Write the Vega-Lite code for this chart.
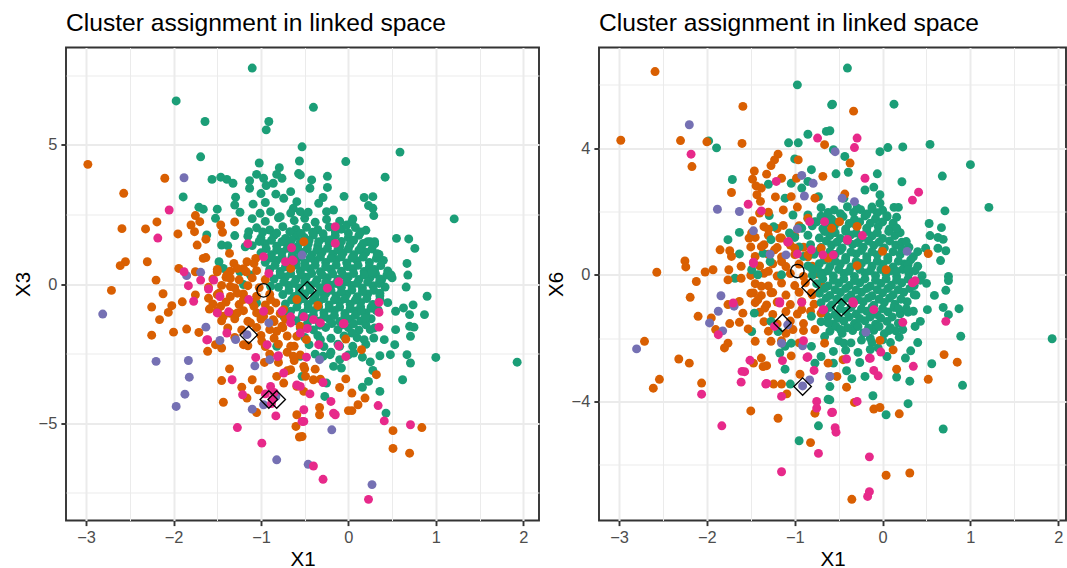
{
"$schema":"https://vega.github.io/schema/vega-lite/v6.json",
"background":"white",
"padding":{"left":12,"top":9.5,"right":0,"bottom":0},
"config":{
 "font":"Liberation Sans",
 "view":{"stroke":"#333333","strokeWidth":1.9},
 "axis":{"domain":false,"tickColor":"#333333","tickSize":5.1,"tickWidth":1.9,"labelColor":"#4D4D4D","labelFontSize":16.4,"labelPadding":4.1,"titleFontSize":20.5,"titleFontWeight":"normal","titleColor":"black","titlePadding":5.1,"gridColor":"#EBEBEB","labelFont":"Liberation Sans","titleFont":"Liberation Sans","labelOverlap":false,"format":"d"},
 "axisX":{"titlePadding":3},
 "title":{"fontSize":24.6,"fontWeight":"normal","anchor":"start","frame":"group","font":"Liberation Sans","color":"black","offset":10.5,"baseline":"alphabetic"},
 "concat":{"spacing":5}
},
"datasets":{
"centers":[{"x":-0.97,"y3":-0.23,"y6":0.12,"s":"circle"},{"x":-0.47,"y3":-0.23,"y6":-1.03,"s":"diamond"},{"x":-1.14,"y3":-1.83,"y6":-1.52,"s":"diamond"},{"x":-0.91,"y3":-4.15,"y6":-3.53,"s":"diamond"},{"x":-0.82,"y3":-4.15,"y6":-0.40,"s":"diamond"}],
"left":[
{"x":-1.1,"y":2.35,"c":"g"},{"x":-0.95,"y":2.25,"c":"g"},{"x":-0.8,"y":2.38,"c":"g"},{"x":-0.62,"y":2.28,"c":"g"},{"x":-0.5,"y":2.36,"c":"g"},{"x":-0.38,"y":2.22,"c":"g"},{"x":-0.25,"y":2.32,"c":"g"},{"x":-0.1,"y":2.26,"c":"g"},{"x":0.05,"y":2.34,"c":"g"},
{"x":-1.05,"y":2.02,"c":"g"},{"x":-0.9,"y":1.94,"c":"g"},{"x":-0.75,"y":2.06,"c":"g"},{"x":-0.6,"y":1.96,"c":"g"},{"x":-0.48,"y":2.04,"c":"g"},{"x":-0.35,"y":1.95,"c":"g"},{"x":-0.22,"y":2.05,"c":"g"},{"x":-0.08,"y":1.97,"c":"g"},{"x":0.08,"y":2.03,"c":"g"},{"x":0.2,"y":1.93,"c":"g"},
{"x":-1.15,"y":1.72,"c":"g"},{"x":-1.0,"y":1.66,"c":"g"},{"x":-0.85,"y":1.75,"c":"g"},{"x":-0.72,"y":1.64,"c":"g"},{"x":-0.6,"y":1.73,"c":"g"},{"x":-0.5,"y":1.66,"c":"g"},{"x":-0.4,"y":1.76,"c":"g"},{"x":-0.28,"y":1.65,"c":"g"},{"x":-0.15,"y":1.74,"c":"g"},{"x":0.0,"y":1.67,"c":"g"},{"x":0.12,"y":1.75,"c":"g"},
{"x":-1.1,"y":1.38,"c":"g"},{"x":-0.95,"y":1.45,"c":"g"},{"x":-0.82,"y":1.36,"c":"g"},{"x":-0.7,"y":1.44,"c":"g"},{"x":-0.58,"y":1.35,"c":"g"},{"x":-0.46,"y":1.43,"c":"g"},{"x":-0.35,"y":1.37,"c":"g"},{"x":-0.22,"y":1.46,"c":"g"},{"x":-0.1,"y":1.35,"c":"g"},{"x":0.02,"y":1.42,"c":"g"},{"x":0.15,"y":1.36,"c":"g"},{"x":0.3,"y":1.44,"c":"g"},
{"x":-1.0,"y":1.12,"c":"g"},{"x":-0.88,"y":1.05,"c":"g"},{"x":-0.76,"y":1.14,"c":"g"},{"x":-0.64,"y":1.06,"c":"g"},{"x":-0.52,"y":1.13,"c":"g"},{"x":-0.42,"y":1.04,"c":"g"},{"x":-0.3,"y":1.15,"c":"g"},{"x":-0.18,"y":1.07,"c":"g"},{"x":-0.06,"y":1.12,"c":"g"},{"x":0.06,"y":1.05,"c":"g"},{"x":0.2,"y":1.14,"c":"g"},{"x":0.35,"y":1.06,"c":"g"},
{"x":-0.95,"y":0.78,"c":"g"},{"x":-0.82,"y":0.85,"c":"g"},{"x":-0.7,"y":0.76,"c":"g"},{"x":-0.6,"y":0.84,"c":"g"},{"x":-0.5,"y":0.75,"c":"g"},{"x":-0.38,"y":0.83,"c":"g"},{"x":-0.26,"y":0.77,"c":"g"},{"x":-0.14,"y":0.86,"c":"g"},{"x":-0.02,"y":0.76,"c":"g"},{"x":0.1,"y":0.84,"c":"g"},{"x":0.24,"y":0.77,"c":"g"},{"x":0.4,"y":0.85,"c":"g"},
{"x":-0.9,"y":0.52,"c":"g"},{"x":-0.78,"y":0.45,"c":"g"},{"x":-0.66,"y":0.54,"c":"g"},{"x":-0.55,"y":0.46,"c":"g"},{"x":-0.44,"y":0.55,"c":"g"},{"x":-0.32,"y":0.44,"c":"g"},{"x":-0.2,"y":0.53,"c":"g"},{"x":-0.08,"y":0.46,"c":"g"},{"x":0.05,"y":0.55,"c":"g"},{"x":0.18,"y":0.45,"c":"g"},{"x":0.3,"y":0.52,"c":"g"},{"x":0.45,"y":0.47,"c":"g"},
{"x":-0.85,"y":0.18,"c":"g"},{"x":-0.72,"y":0.25,"c":"g"},{"x":-0.6,"y":0.16,"c":"g"},{"x":-0.48,"y":0.24,"c":"g"},{"x":-0.36,"y":0.15,"c":"g"},{"x":-0.24,"y":0.23,"c":"g"},{"x":-0.12,"y":0.17,"c":"g"},{"x":0.0,"y":0.26,"c":"g"},{"x":0.12,"y":0.16,"c":"g"},{"x":0.25,"y":0.24,"c":"g"},{"x":0.38,"y":0.15,"c":"g"},{"x":0.5,"y":0.22,"c":"g"},
{"x":-0.8,"y":-0.12,"c":"g"},{"x":-0.68,"y":-0.05,"c":"g"},{"x":-0.56,"y":-0.14,"c":"g"},{"x":-0.44,"y":-0.06,"c":"g"},{"x":-0.32,"y":-0.13,"c":"g"},{"x":-0.2,"y":-0.04,"c":"g"},{"x":-0.08,"y":-0.12,"c":"g"},{"x":0.04,"y":-0.05,"c":"g"},{"x":0.16,"y":-0.14,"c":"g"},{"x":0.28,"y":-0.06,"c":"g"},{"x":0.42,"y":-0.11,"c":"g"},
{"x":-0.75,"y":-0.38,"c":"g"},{"x":-0.62,"y":-0.45,"c":"g"},{"x":-0.5,"y":-0.36,"c":"g"},{"x":-0.38,"y":-0.44,"c":"g"},{"x":-0.26,"y":-0.35,"c":"g"},{"x":-0.14,"y":-0.43,"c":"g"},{"x":-0.02,"y":-0.37,"c":"g"},{"x":0.1,"y":-0.46,"c":"g"},{"x":0.22,"y":-0.36,"c":"g"},{"x":0.36,"y":-0.42,"c":"g"},
{"x":-0.72,"y":-0.72,"c":"g"},{"x":-0.58,"y":-0.65,"c":"g"},{"x":-0.46,"y":-0.74,"c":"g"},{"x":-0.34,"y":-0.66,"c":"g"},{"x":-0.22,"y":-0.75,"c":"g"},{"x":-0.1,"y":-0.64,"c":"g"},{"x":0.02,"y":-0.73,"c":"g"},{"x":0.14,"y":-0.66,"c":"g"},{"x":0.28,"y":-0.74,"c":"g"},{"x":0.45,"y":-0.67,"c":"g"},
{"x":-0.66,"y":-0.98,"c":"g"},{"x":-0.52,"y":-1.05,"c":"g"},{"x":-0.4,"y":-0.96,"c":"g"},{"x":-0.28,"y":-1.04,"c":"g"},{"x":-0.16,"y":-0.95,"c":"g"},{"x":-0.04,"y":-1.06,"c":"g"},{"x":0.08,"y":-0.97,"c":"g"},{"x":0.2,"y":-1.04,"c":"g"},{"x":0.32,"y":-0.96,"c":"g"},
{"x":-0.6,"y":-1.32,"c":"g"},{"x":-0.46,"y":-1.25,"c":"g"},{"x":-0.34,"y":-1.34,"c":"g"},{"x":-0.22,"y":-1.26,"c":"g"},{"x":-0.1,"y":-1.35,"c":"g"},{"x":0.02,"y":-1.27,"c":"g"},{"x":0.14,"y":-1.33,"c":"g"},{"x":0.26,"y":-1.25,"c":"g"},
{"x":-0.55,"y":-1.58,"c":"g"},{"x":-0.4,"y":-1.65,"c":"g"},{"x":-0.26,"y":-1.56,"c":"g"},{"x":-0.12,"y":-1.64,"c":"g"},{"x":0.0,"y":-1.57,"c":"g"},{"x":0.12,"y":-1.66,"c":"g"},{"x":0.3,"y":-1.58,"c":"g"},
{"x":-0.5,"y":-1.92,"c":"g"},{"x":-0.35,"y":-1.85,"c":"g"},{"x":-0.2,"y":-1.95,"c":"g"},{"x":-0.05,"y":-1.87,"c":"g"},{"x":0.1,"y":-1.93,"c":"g"},
{"x":-0.45,"y":-2.18,"c":"g"},{"x":-0.28,"y":-2.25,"c":"g"},{"x":-0.12,"y":-2.16,"c":"g"},{"x":0.05,"y":-2.24,"c":"g"},{"x":0.2,"y":-2.17,"c":"g"},
{"x":-0.38,"y":-2.52,"c":"g"},{"x":-0.2,"y":-2.45,"c":"g"},{"x":0.0,"y":-2.55,"c":"g"},
{"x":-0.98,"y":1.87,"c":"g"},{"x":-0.82,"y":1.83,"c":"g"},{"x":-0.67,"y":1.88,"c":"g"},{"x":-0.54,"y":1.82,"c":"g"},{"x":-0.41,"y":1.86,"c":"g"},{"x":-0.29,"y":1.81,"c":"g"},{"x":-0.15,"y":1.88,"c":"g"},{"x":0.0,"y":1.83,"c":"g"},{"x":0.14,"y":1.87,"c":"g"},
{"x":-1.02,"y":1.53,"c":"g"},{"x":-0.88,"y":1.57,"c":"g"},{"x":-0.76,"y":1.52,"c":"g"},{"x":-0.65,"y":1.58,"c":"g"},{"x":-0.55,"y":1.51,"c":"g"},{"x":-0.45,"y":1.56,"c":"g"},{"x":-0.34,"y":1.52,"c":"g"},{"x":-0.21,"y":1.58,"c":"g"},{"x":-0.08,"y":1.53,"c":"g"},{"x":0.06,"y":1.57,"c":"g"},{"x":0.22,"y":1.52,"c":"g"},
{"x":-0.94,"y":1.27,"c":"g"},{"x":-0.82,"y":1.22,"c":"g"},{"x":-0.7,"y":1.28,"c":"g"},{"x":-0.58,"y":1.23,"c":"g"},{"x":-0.47,"y":1.27,"c":"g"},{"x":-0.36,"y":1.21,"c":"g"},{"x":-0.24,"y":1.28,"c":"g"},{"x":-0.12,"y":1.23,"c":"g"},{"x":0.0,"y":1.27,"c":"g"},{"x":0.12,"y":1.22,"c":"g"},{"x":0.27,"y":1.26,"c":"g"},
{"x":-0.88,"y":0.93,"c":"g"},{"x":-0.76,"y":0.97,"c":"g"},{"x":-0.65,"y":0.92,"c":"g"},{"x":-0.55,"y":0.98,"c":"g"},{"x":-0.44,"y":0.93,"c":"g"},{"x":-0.32,"y":0.97,"c":"g"},{"x":-0.2,"y":0.92,"c":"g"},{"x":-0.08,"y":0.98,"c":"g"},{"x":0.04,"y":0.93,"c":"g"},{"x":0.17,"y":0.97,"c":"g"},{"x":0.32,"y":0.92,"c":"g"},
{"x":-0.84,"y":0.67,"c":"g"},{"x":-0.72,"y":0.62,"c":"g"},{"x":-0.6,"y":0.68,"c":"g"},{"x":-0.5,"y":0.63,"c":"g"},{"x":-0.38,"y":0.67,"c":"g"},{"x":-0.26,"y":0.62,"c":"g"},{"x":-0.14,"y":0.68,"c":"g"},{"x":-0.01,"y":0.63,"c":"g"},{"x":0.11,"y":0.67,"c":"g"},{"x":0.24,"y":0.62,"c":"g"},{"x":0.37,"y":0.66,"c":"g"},
{"x":-0.78,"y":0.33,"c":"g"},{"x":-0.66,"y":0.37,"c":"g"},{"x":-0.54,"y":0.32,"c":"g"},{"x":-0.42,"y":0.38,"c":"g"},{"x":-0.3,"y":0.33,"c":"g"},{"x":-0.18,"y":0.37,"c":"g"},{"x":-0.06,"y":0.32,"c":"g"},{"x":0.06,"y":0.38,"c":"g"},{"x":0.18,"y":0.33,"c":"g"},{"x":0.31,"y":0.37,"c":"g"},{"x":0.44,"y":0.32,"c":"g"},
{"x":-0.74,"y":0.07,"c":"g"},{"x":-0.62,"y":0.02,"c":"g"},{"x":-0.5,"y":0.08,"c":"g"},{"x":-0.38,"y":0.03,"c":"g"},{"x":-0.26,"y":0.07,"c":"g"},{"x":-0.14,"y":0.02,"c":"g"},{"x":-0.02,"y":0.08,"c":"g"},{"x":0.1,"y":0.03,"c":"g"},{"x":0.22,"y":0.07,"c":"g"},{"x":0.35,"y":0.02,"c":"g"},
{"x":-0.68,"y":-0.23,"c":"g"},{"x":-0.56,"y":-0.28,"c":"g"},{"x":-0.44,"y":-0.22,"c":"g"},{"x":-0.32,"y":-0.27,"c":"g"},{"x":-0.2,"y":-0.23,"c":"g"},{"x":-0.08,"y":-0.28,"c":"g"},{"x":0.04,"y":-0.22,"c":"g"},{"x":0.16,"y":-0.27,"c":"g"},{"x":0.29,"y":-0.23,"c":"g"},
{"x":-0.65,"y":-0.57,"c":"g"},{"x":-0.52,"y":-0.53,"c":"g"},{"x":-0.4,"y":-0.58,"c":"g"},{"x":-0.28,"y":-0.52,"c":"g"},{"x":-0.16,"y":-0.57,"c":"g"},{"x":-0.04,"y":-0.53,"c":"g"},{"x":0.08,"y":-0.58,"c":"g"},{"x":0.21,"y":-0.52,"c":"g"},{"x":0.36,"y":-0.56,"c":"g"},
{"x":-0.59,"y":-0.83,"c":"g"},{"x":-0.46,"y":-0.88,"c":"g"},{"x":-0.34,"y":-0.82,"c":"g"},{"x":-0.22,"y":-0.87,"c":"g"},{"x":-0.1,"y":-0.83,"c":"g"},{"x":0.02,"y":-0.88,"c":"g"},{"x":0.14,"y":-0.82,"c":"g"},{"x":0.26,"y":-0.87,"c":"g"},
{"x":-0.53,"y":-1.17,"c":"g"},{"x":-0.4,"y":-1.12,"c":"g"},{"x":-0.28,"y":-1.18,"c":"g"},{"x":-0.16,"y":-1.13,"c":"g"},{"x":-0.04,"y":-1.17,"c":"g"},{"x":0.08,"y":-1.12,"c":"g"},{"x":0.2,"y":-1.17,"c":"g"},
{"x":-0.47,"y":-1.43,"c":"g"},{"x":-0.33,"y":-1.48,"c":"g"},{"x":-0.19,"y":-1.42,"c":"g"},{"x":-0.06,"y":-1.47,"c":"g"},{"x":0.06,"y":-1.43,"c":"g"},{"x":0.2,"y":-1.47,"c":"g"},
{"x":-1.10,"y":7.76,"c":"g"},{"x":-1.97,"y":6.58,"c":"g"},{"x":-1.64,"y":5.84,"c":"g"},{"x":-0.91,"y":5.84,"c":"g"},{"x":-0.94,"y":5.54,"c":"g"},{"x":-0.53,"y":4.93,"c":"g"},{"x":-1.69,"y":4.57,"c":"g"},{"x":-1.02,"y":4.35,"c":"g"},{"x":-0.56,"y":4.42,"c":"g"},{"x":-0.79,"y":4.18,"c":"g"},{"x":-0.82,"y":3.94,"c":"g"},{"x":-0.57,"y":3.97,"c":"g"},{"x":-1.05,"y":3.94,"c":"g"},{"x":-0.97,"y":3.80,"c":"g"},{"x":-1.13,"y":3.71,"c":"g"},{"x":-0.76,"y":3.80,"c":"g"},{"x":-1.56,"y":3.76,"c":"g"},{"x":-1.46,"y":3.84,"c":"g"},{"x":-1.39,"y":3.76,"c":"g"},{"x":-1.32,"y":3.62,"c":"g"},{"x":-1.13,"y":3.44,"c":"g"},{"x":-0.94,"y":3.54,"c":"g"},{"x":-0.86,"y":3.62,"c":"g"},{"x":-1.89,"y":3.13,"c":"g"},{"x":-0.66,"y":3.32,"c":"g"},{"x":-1.00,"y":3.25,"c":"g"},{"x":-0.83,"y":3.23,"c":"g"},{"x":-0.74,"y":3.08,"c":"g"},{"x":-1.29,"y":3.12,"c":"g"},{"x":-0.59,"y":2.96,"c":"g"},{"x":-0.63,"y":2.72,"c":"g"},{"x":-1.09,"y":2.87,"c":"g"},{"x":-0.95,"y":2.93,"c":"g"},{"x":-1.30,"y":2.84,"c":"g"},{"x":-1.24,"y":2.58,"c":"g"},{"x":-1.71,"y":2.76,"c":"g"},{"x":-1.66,"y":2.69,"c":"g"},{"x":-1.50,"y":2.69,"c":"g"},{"x":-1.52,"y":2.36,"c":"g"},{"x":-1.01,"y":2.54,"c":"g"},{"x":-0.89,"y":2.60,"c":"g"},{"x":-0.78,"y":2.42,"c":"g"},{"x":-0.66,"y":2.55,"c":"g"},{"x":-0.55,"y":2.6,"c":"g"},{"x":-1.62,"y":1.76,"c":"g"},{"x":-1.30,"y":1.74,"c":"g"},{"x":-1.14,"y":1.88,"c":"g"},{"x":-1.45,"y":1.40,"c":"g"},{"x":-1.38,"y":1.38,"c":"g"},{"x":-1.18,"y":1.34,"c":"g"},{"x":-1.48,"y":0.80,"c":"g"},{"x":-1.43,"y":0.56,"c":"g"},{"x":-1.24,"y":0.44,"c":"g"},{"x":-1.12,"y":0.32,"c":"g"},
{"x":-0.40,"y":6.35,"c":"g"},{"x":0.59,"y":4.74,"c":"g"},{"x":-0.03,"y":4.40,"c":"g"},{"x":0.42,"y":3.84,"c":"g"},{"x":-0.24,"y":3.87,"c":"g"},{"x":-0.42,"y":3.74,"c":"g"},{"x":-0.44,"y":3.44,"c":"g"},{"x":-0.24,"y":3.47,"c":"g"},{"x":-0.55,"y":3.92,"c":"g"},{"x":-0.05,"y":3.15,"c":"g"},{"x":0.18,"y":3.11,"c":"g"},{"x":0.28,"y":3.14,"c":"g"},{"x":0.23,"y":2.82,"c":"g"},{"x":0.28,"y":2.72,"c":"g"},{"x":0.29,"y":2.46,"c":"g"},{"x":1.21,"y":2.34,"c":"g"},{"x":-0.29,"y":3.11,"c":"g"},{"x":-0.34,"y":2.90,"c":"g"},{"x":-0.17,"y":2.66,"c":"g"},{"x":-0.25,"y":2.60,"c":"g"},{"x":-0.46,"y":2.58,"c":"g"},{"x":-0.02,"y":2.12,"c":"g"},{"x":0.04,"y":2.24,"c":"g"},{"x":0.55,"y":1.64,"c":"g"},{"x":0.69,"y":1.62,"c":"g"},{"x":0.76,"y":1.28,"c":"g"},{"x":0.25,"y":1.52,"c":"g"},{"x":0.30,"y":1.52,"c":"g"},{"x":0.17,"y":1.46,"c":"g"},{"x":0.33,"y":1.09,"c":"g"},{"x":0.67,"y":0.74,"c":"g"},{"x":0.68,"y":0.32,"c":"g"},{"x":0.49,"y":0.32,"c":"g"},{"x":0.27,"y":0.44,"c":"g"},{"x":0.36,"y":0.18,"c":"g"},
{"x":-1.29,"y":-1.10,"c":"g"},{"x":-1.20,"y":-0.02,"c":"g"},{"x":-1.05,"y":-0.68,"c":"g"},{"x":-0.89,"y":-0.08,"c":"g"},{"x":-0.55,"y":-2.60,"c":"g"},{"x":-0.53,"y":-3.32,"c":"g"},{"x":-0.82,"y":-2.24,"c":"g"},{"x":-0.74,"y":-1.16,"c":"g"},
{"x":0.66,"y":-0.11,"c":"g"},{"x":0.90,"y":-0.44,"c":"g"},{"x":0.74,"y":-0.75,"c":"g"},{"x":0.87,"y":-1.10,"c":"g"},{"x":0.63,"y":-0.86,"c":"g"},{"x":0.54,"y":-0.98,"c":"g"},{"x":0.70,"y":-1.10,"c":"g"},{"x":0.70,"y":-1.52,"c":"g"},{"x":0.75,"y":-1.55,"c":"g"},{"x":0.54,"y":-1.64,"c":"g"},{"x":0.71,"y":-1.88,"c":"g"},{"x":0.41,"y":-2.00,"c":"g"},{"x":0.53,"y":-2.18,"c":"g"},{"x":0.48,"y":-2.54,"c":"g"},{"x":0.36,"y":-2.58,"c":"g"},{"x":0.67,"y":-2.54,"c":"g"},{"x":0.71,"y":-2.84,"c":"g"},{"x":1.00,"y":-2.64,"c":"g"},{"x":1.93,"y":-2.81,"c":"g"},{"x":0.62,"y":-3.44,"c":"g"},{"x":0.36,"y":-3.86,"c":"g"},{"x":0.43,"y":-4.64,"c":"g"},{"x":0.16,"y":-3.71,"c":"g"},{"x":0.23,"y":-3.50,"c":"g"},{"x":0.28,"y":-3.11,"c":"g"},{"x":0.25,"y":-2.80,"c":"g"},{"x":0.16,"y":-2.63,"c":"g"},{"x":0.29,"y":-1.94,"c":"g"},{"x":0.18,"y":-2.00,"c":"g"},{"x":0.25,"y":-1.64,"c":"g"},{"x":0.36,"y":-0.33,"c":"g"},{"x":0.34,"y":-0.93,"c":"g"},{"x":0.26,"y":-0.83,"c":"g"},{"x":0.15,"y":-0.98,"c":"g"},{"x":0.19,"y":-1.22,"c":"g"},{"x":0.04,"y":-1.76,"c":"g"},{"x":0.06,"y":-2.48,"c":"g"},{"x":-0.08,"y":-3.02,"c":"g"},{"x":-0.10,"y":-2.72,"c":"g"},{"x":-0.25,"y":-3.56,"c":"g"},{"x":-0.27,"y":-4.04,"c":"g"},{"x":-0.17,"y":-2.96,"c":"g"},{"x":-0.21,"y":-2.54,"c":"g"},{"x":-0.32,"y":-2.00,"c":"g"},{"x":-0.10,"y":-2.24,"c":"g"},{"x":-0.29,"y":-2.60,"c":"g"},
{"x":-1.5,"y":0.52,"c":"o"},{"x":-1.35,"y":0.46,"c":"o"},{"x":-1.2,"y":0.55,"c":"o"},{"x":-1.05,"y":0.48,"c":"o"},
{"x":-1.55,"y":0.18,"c":"o"},{"x":-1.4,"y":0.24,"c":"o"},{"x":-1.25,"y":0.15,"c":"o"},{"x":-1.1,"y":0.22,"c":"o"},{"x":-0.95,"y":0.16,"c":"o"},
{"x":-1.6,"y":-0.12,"c":"o"},{"x":-1.45,"y":-0.05,"c":"o"},{"x":-1.3,"y":-0.14,"c":"o"},{"x":-1.15,"y":-0.06,"c":"o"},{"x":-1.02,"y":-0.13,"c":"o"},
{"x":-1.5,"y":-0.38,"c":"o"},{"x":-1.35,"y":-0.45,"c":"o"},{"x":-1.2,"y":-0.36,"c":"o"},{"x":-1.05,"y":-0.44,"c":"o"},{"x":-0.9,"y":-0.37,"c":"o"},
{"x":-1.55,"y":-0.72,"c":"o"},{"x":-1.4,"y":-0.65,"c":"o"},{"x":-1.25,"y":-0.74,"c":"o"},{"x":-1.1,"y":-0.66,"c":"o"},{"x":-0.95,"y":-0.75,"c":"o"},{"x":-0.83,"y":-0.68,"c":"o"},
{"x":-1.5,"y":-0.98,"c":"o"},{"x":-1.35,"y":-1.05,"c":"o"},{"x":-1.2,"y":-0.96,"c":"o"},{"x":-1.05,"y":-1.04,"c":"o"},{"x":-0.9,"y":-0.95,"c":"o"},{"x":-0.78,"y":-1.06,"c":"o"},
{"x":-1.45,"y":-1.32,"c":"o"},{"x":-1.3,"y":-1.25,"c":"o"},{"x":-1.15,"y":-1.34,"c":"o"},{"x":-1.0,"y":-1.26,"c":"o"},{"x":-0.85,"y":-1.35,"c":"o"},{"x":-0.72,"y":-1.27,"c":"o"},
{"x":-1.38,"y":-1.58,"c":"o"},{"x":-1.22,"y":-1.65,"c":"o"},{"x":-1.05,"y":-1.56,"c":"o"},{"x":-0.9,"y":-1.64,"c":"o"},{"x":-0.75,"y":-1.57,"c":"o"},
{"x":-1.3,"y":-1.92,"c":"o"},{"x":-1.0,"y":-1.85,"c":"o"},{"x":-0.85,"y":-1.95,"c":"o"},{"x":-0.7,"y":-1.87,"c":"o"},
{"x":-1.2,"y":-2.18,"c":"o"},{"x":-0.95,"y":-2.25,"c":"o"},{"x":-0.8,"y":-2.16,"c":"o"},{"x":-0.62,"y":-2.24,"c":"o"},
{"x":-0.9,"y":-2.52,"c":"o"},{"x":-0.7,"y":-2.45,"c":"o"},{"x":-0.55,"y":-2.55,"c":"o"},{"x":-0.8,"y":-2.82,"c":"o"},{"x":-0.62,"y":-2.75,"c":"o"},{"x":-0.7,"y":-3.12,"c":"o"},{"x":-0.5,"y":-3.05,"c":"o"},
{"x":-2.98,"y":4.30,"c":"o"},{"x":-2.10,"y":3.80,"c":"o"},{"x":-2.57,"y":3.26,"c":"o"},{"x":-2.19,"y":2.23,"c":"o"},{"x":-2.59,"y":1.99,"c":"o"},{"x":-2.32,"y":1.98,"c":"o"},{"x":-1.95,"y":1.80,"c":"o"},{"x":-1.75,"y":2.46,"c":"o"},{"x":-1.80,"y":2.12,"c":"o"},{"x":-1.70,"y":2.24,"c":"o"},{"x":-1.76,"y":1.88,"c":"o"},{"x":-1.63,"y":1.61,"c":"o"},{"x":-1.73,"y":1.40,"c":"o"},{"x":-1.46,"y":2.12,"c":"o"},{"x":-1.44,"y":1.86,"c":"o"},{"x":-1.30,"y":2.23,"c":"o"},{"x":-1.66,"y":0.92,"c":"o"},{"x":-1.63,"y":0.95,"c":"o"},{"x":-2.55,"y":0.80,"c":"o"},{"x":-2.61,"y":0.66,"c":"o"},{"x":-2.30,"y":0.80,"c":"o"},{"x":-1.36,"y":1.10,"c":"o"},{"x":-1.50,"y":0.44,"c":"o"},{"x":-1.31,"y":0.74,"c":"o"},{"x":-1.27,"y":0.56,"c":"o"},{"x":-1.16,"y":0.80,"c":"o"},{"x":-1.06,"y":0.92,"c":"o"},{"x":-1.17,"y":0.44,"c":"o"},{"x":-1.94,"y":0.56,"c":"o"},{"x":-1.75,"y":0.44,"c":"o"},{"x":-2.20,"y":0.14,"c":"o"},{"x":-1.39,"y":0.32,"c":"o"},{"x":-1.35,"y":0.20,"c":"o"},{"x":-1.08,"y":0.74,"c":"o"},{"x":-0.66,"y":0.56,"c":"o"},{"x":-0.51,"y":1.52,"c":"o"},
{"x":-2.71,"y":-0.23,"c":"o"},{"x":-2.12,"y":-0.35,"c":"o"},{"x":-2.25,"y":-0.83,"c":"o"},{"x":-2.02,"y":-0.78,"c":"o"},{"x":-2.06,"y":-1.02,"c":"o"},{"x":-1.90,"y":-0.64,"c":"o"},{"x":-2.16,"y":-1.28,"c":"o"},{"x":-2.25,"y":-1.84,"c":"o"},{"x":-2.00,"y":-1.73,"c":"o"},{"x":-1.85,"y":-1.62,"c":"o"},{"x":-1.71,"y":-1.74,"c":"o"},{"x":-1.75,"y":-0.39,"c":"o"},{"x":-1.59,"y":-0.90,"c":"o"},{"x":-1.60,"y":-0.51,"c":"o"},{"x":-1.46,"y":-0.80,"c":"o"},{"x":-1.43,"y":-1.16,"c":"o"},{"x":-1.48,"y":-0.33,"c":"o"},{"x":-1.35,"y":-0.09,"c":"o"},{"x":-1.27,"y":-0.33,"c":"o"},{"x":-1.52,"y":-2.18,"c":"o"},{"x":-1.45,"y":-2.30,"c":"o"},{"x":-1.61,"y":-2.42,"c":"o"},{"x":-1.36,"y":-3.05,"c":"o"},{"x":-1.45,"y":-3.47,"c":"o"},{"x":-1.22,"y":-3.71,"c":"o"},{"x":-1.10,"y":-3.44,"c":"o"},{"x":-1.03,"y":-3.80,"c":"o"},{"x":-1.16,"y":-4.10,"c":"o"},{"x":-1.43,"y":-4.25,"c":"o"},{"x":-1.05,"y":-4.62,"c":"o"},{"x":-1.15,"y":-2.22,"c":"o"},{"x":-0.96,"y":-2.82,"c":"o"},{"x":-0.82,"y":-3.32,"c":"o"},{"x":-0.74,"y":-3.56,"c":"o"},{"x":-0.59,"y":-4.70,"c":"o"},{"x":-0.60,"y":-5.12,"c":"o"},{"x":-0.56,"y":-5.50,"c":"o"},{"x":-0.99,"y":-2.06,"c":"o"},{"x":-0.82,"y":-1.70,"c":"o"},{"x":-0.66,"y":-2.24,"c":"o"},{"x":-0.63,"y":-2.60,"c":"o"},{"x":-0.66,"y":-3.08,"c":"o"},{"x":-0.59,"y":-3.68,"c":"o"},{"x":-1.12,"y":-1.40,"c":"o"},{"x":-0.97,"y":-1.16,"c":"o"},{"x":-0.86,"y":-1.28,"c":"o"},{"x":-0.76,"y":-1.52,"c":"o"},{"x":-1.27,"y":-1.04,"c":"o"},{"x":-1.20,"y":-0.56,"c":"o"},{"x":-1.08,"y":-0.80,"c":"o"},{"x":-0.89,"y":-0.56,"c":"o"},{"x":-0.74,"y":-0.92,"c":"o"},{"x":-0.59,"y":-0.56,"c":"o"},{"x":-0.59,"y":-1.88,"c":"o"},{"x":-0.55,"y":-1.52,"c":"o"},
{"x":-0.35,"y":-0.77,"c":"o"},{"x":-0.03,"y":-1.98,"c":"o"},{"x":0.15,"y":-2.36,"c":"o"},{"x":0.32,"y":-3.26,"c":"o"},{"x":-0.03,"y":-3.41,"c":"o"},{"x":-0.10,"y":-3.72,"c":"o"},{"x":0.04,"y":-3.92,"c":"o"},{"x":0.19,"y":-4.10,"c":"o"},{"x":0.11,"y":-4.34,"c":"o"},{"x":0.00,"y":-4.55,"c":"o"},{"x":0.04,"y":-4.55,"c":"o"},{"x":-0.33,"y":-4.44,"c":"o"},{"x":-0.33,"y":-4.70,"c":"o"},{"x":0.51,"y":-5.27,"c":"o"},{"x":0.84,"y":-5.16,"c":"o"},{"x":0.51,"y":-5.91,"c":"o"},{"x":0.70,"y":-6.08,"c":"o"},{"x":-0.38,"y":-3.06,"c":"o"},{"x":-0.49,"y":-3.32,"c":"o"},{"x":-0.40,"y":-3.44,"c":"o"},{"x":-0.32,"y":-3.42,"c":"o"},{"x":-0.51,"y":-3.86,"c":"o"},{"x":-0.53,"y":-5.48,"c":"o"},{"x":-0.48,"y":-2.00,"c":"o"},{"x":-0.51,"y":-2.96,"c":"o"},
{"x":-1.88,"y":3.82,"c":"p"},{"x":-1.69,"y":0.42,"c":"p"},{"x":-1.85,"y":0.30,"c":"p"},{"x":-0.53,"y":1.04,"c":"p"},{"x":-2.81,"y":-1.08,"c":"p"},{"x":-2.20,"y":-2.78,"c":"p"},{"x":-1.83,"y":-2.75,"c":"p"},{"x":-1.82,"y":-3.35,"c":"p"},{"x":-1.87,"y":-3.96,"c":"p"},{"x":-1.97,"y":-4.40,"c":"p"},{"x":-1.63,"y":-1.55,"c":"p"},{"x":-1.47,"y":-2.03,"c":"p"},{"x":-1.29,"y":-2.00,"c":"p"},{"x":-1.16,"y":-1.82,"c":"p"},{"x":-1.07,"y":-2.94,"c":"p"},{"x":-0.90,"y":-2.72,"c":"p"},{"x":-0.91,"y":-1.40,"c":"p"},{"x":-1.10,"y":-4.50,"c":"p"},{"x":-0.97,"y":-4.34,"c":"p"},{"x":-0.82,"y":-6.32,"c":"p"},{"x":-0.33,"y":-2.72,"c":"p"},{"x":-0.19,"y":-5.24,"c":"p"},{"x":-0.46,"y":-6.48,"c":"p"},{"x":0.27,"y":-7.21,"c":"p"},{"x":-0.83,"y":-4.05,"c":"p"},
{"x":-2.05,"y":2.66,"c":"m"},{"x":-2.18,"y":1.65,"c":"m"},{"x":-1.15,"y":1.45,"c":"m"},{"x":-0.97,"y":0.98,"c":"m"},{"x":-0.91,"y":0.38,"c":"m"},{"x":-1.88,"y":0.44,"c":"m"},{"x":-1.69,"y":0.14,"c":"m"},{"x":-1.54,"y":0.14,"c":"m"},{"x":-0.72,"y":0.80,"c":"m"},{"x":-0.63,"y":0.83,"c":"m"},{"x":-0.15,"y":2.06,"c":"m"},{"x":-0.15,"y":1.46,"c":"m"},
{"x":-1.83,"y":-0.06,"c":"m"},{"x":-1.77,"y":-0.62,"c":"m"},{"x":-1.60,"y":-0.18,"c":"m"},{"x":-1.47,"y":-0.45,"c":"m"},{"x":-1.50,"y":-1.04,"c":"m"},{"x":-1.61,"y":-2.00,"c":"m"},{"x":-1.39,"y":-1.76,"c":"m"},{"x":-1.33,"y":-3.44,"c":"m"},{"x":-1.21,"y":-3.98,"c":"m"},{"x":-1.06,"y":-2.64,"c":"m"},{"x":-0.80,"y":-2.58,"c":"m"},{"x":-0.89,"y":-3.68,"c":"m"},{"x":-0.87,"y":-4.16,"c":"m"},{"x":-0.83,"y":-4.74,"c":"m"},{"x":-1.27,"y":-5.16,"c":"m"},{"x":-0.99,"y":-5.72,"c":"m"},{"x":-1.14,"y":-0.56,"c":"m"},{"x":-0.97,"y":-0.98,"c":"m"},{"x":-0.74,"y":-3.20,"c":"m"},{"x":-0.66,"y":-1.40,"c":"m"},{"x":-0.55,"y":-1.76,"c":"m"},{"x":-0.55,"y":-3.68,"c":"m"},{"x":-0.53,"y":-4.94,"c":"m"},{"x":-0.93,"y":-2.18,"c":"m"},{"x":-0.76,"y":-0.98,"c":"m"},
{"x":-0.24,"y":-0.15,"c":"m"},{"x":0.35,"y":-0.66,"c":"m"},{"x":0.35,"y":-1.02,"c":"m"},{"x":0.35,"y":-1.55,"c":"m"},{"x":-0.06,"y":-1.43,"c":"m"},{"x":-0.11,"y":-2.22,"c":"m"},{"x":-0.03,"y":-2.61,"c":"m"},{"x":-0.48,"y":-2.63,"c":"m"},{"x":-0.29,"y":-3.54,"c":"m"},{"x":-0.44,"y":-3.95,"c":"m"},{"x":-0.20,"y":-4.22,"c":"m"},{"x":-0.17,"y":-4.64,"c":"m"},{"x":-0.15,"y":-4.70,"c":"m"},{"x":-0.51,"y":-4.94,"c":"m"},{"x":0.34,"y":-4.37,"c":"m"},{"x":0.41,"y":-4.92,"c":"m"},{"x":0.71,"y":-5.06,"c":"m"},{"x":-0.40,"y":-6.54,"c":"m"},{"x":-0.29,"y":-7.02,"c":"m"},{"x":0.23,"y":-7.74,"c":"m"},{"x":-0.40,"y":-1.28,"c":"m"},{"x":-0.32,"y":-1.40,"c":"m"},{"x":-0.34,"y":-2.18,"c":"m"},{"x":-0.51,"y":-4.52,"c":"m"},
{"x":-0.64,"y":0.86,"c":"m"},{"x":-0.66,"y":-1.18,"c":"m"},{"x":-0.51,"y":-1.18,"c":"m"},{"x":-1.37,"y":-1.0,"c":"m"},{"x":-0.11,"y":0.08,"c":"m"},{"x":-0.05,"y":-1.42,"c":"m"},{"x":-0.47,"y":-1.6,"c":"m"},{"x":-0.81,"y":-2.61,"c":"m"},{"x":-0.59,"y":-3.63,"c":"m"},{"x":-1.62,"y":-2.01,"c":"m"},{"x":-0.65,"y":1.3,"c":"m"},{"x":-0.95,"y":-3.95,"c":"m"},{"x":-0.85,"y":-3.9,"c":"m"},{"x":-0.88,"y":-4.3,"c":"m"}
],
"right":[
{"x":-1.35,"y":1.52,"c":"o"},{"x":-1.2,"y":1.46,"c":"o"},{"x":-0.95,"y":1.55,"c":"o"},
{"x":-1.45,"y":1.18,"c":"o"},{"x":-1.3,"y":1.25,"c":"o"},{"x":-1.15,"y":1.16,"c":"o"},{"x":-1.0,"y":1.24,"c":"o"},
{"x":-1.5,"y":0.88,"c":"o"},{"x":-1.35,"y":0.95,"c":"o"},{"x":-1.2,"y":0.86,"c":"o"},{"x":-1.05,"y":0.94,"c":"o"},{"x":-0.9,"y":0.87,"c":"o"},
{"x":-1.45,"y":0.58,"c":"o"},{"x":-1.3,"y":0.65,"c":"o"},{"x":-1.15,"y":0.56,"c":"o"},{"x":-1.0,"y":0.64,"c":"o"},{"x":-0.85,"y":0.57,"c":"o"},
{"x":-1.4,"y":0.28,"c":"o"},{"x":-1.25,"y":0.35,"c":"o"},{"x":-1.1,"y":0.26,"c":"o"},{"x":-0.95,"y":0.34,"c":"o"},{"x":-0.8,"y":0.27,"c":"o"},
{"x":-1.5,"y":-0.02,"c":"o"},{"x":-1.35,"y":0.05,"c":"o"},{"x":-1.2,"y":-0.04,"c":"o"},{"x":-1.05,"y":0.04,"c":"o"},{"x":-0.9,"y":-0.05,"c":"o"},{"x":-0.75,"y":0.03,"c":"o"},
{"x":-1.45,"y":-0.28,"c":"o"},{"x":-1.3,"y":-0.35,"c":"o"},{"x":-1.15,"y":-0.26,"c":"o"},{"x":-1.0,"y":-0.34,"c":"o"},{"x":-0.88,"y":-0.25,"c":"o"},{"x":-0.7,"y":-0.33,"c":"o"},
{"x":-1.5,"y":-0.58,"c":"o"},{"x":-1.38,"y":-0.65,"c":"o"},{"x":-1.25,"y":-0.56,"c":"o"},{"x":-1.1,"y":-0.64,"c":"o"},{"x":-0.95,"y":-0.55,"c":"o"},{"x":-0.8,"y":-0.63,"c":"o"},
{"x":-1.45,"y":-0.88,"c":"o"},{"x":-1.32,"y":-0.95,"c":"o"},{"x":-1.2,"y":-0.86,"c":"o"},{"x":-1.05,"y":-0.94,"c":"o"},{"x":-0.92,"y":-0.85,"c":"o"},{"x":-0.78,"y":-0.93,"c":"o"},
{"x":-1.4,"y":-1.18,"c":"o"},{"x":-1.25,"y":-1.25,"c":"o"},{"x":-1.1,"y":-1.16,"c":"o"},{"x":-0.97,"y":-1.24,"c":"o"},{"x":-0.82,"y":-1.15,"c":"o"},
{"x":-1.35,"y":-1.48,"c":"o"},{"x":-1.2,"y":-1.55,"c":"o"},{"x":-1.05,"y":-1.46,"c":"o"},{"x":-0.9,"y":-1.54,"c":"o"},
{"x":-1.3,"y":-1.78,"c":"o"},{"x":-1.1,"y":-1.85,"c":"o"},{"x":-0.9,"y":-1.76,"c":"o"},{"x":-1.15,"y":-2.08,"c":"o"},{"x":-0.95,"y":-2.15,"c":"o"},
{"x":-0.7,"y":2.12,"c":"g"},{"x":-0.55,"y":2.05,"c":"g"},{"x":-0.4,"y":2.15,"c":"g"},{"x":-0.25,"y":2.06,"c":"g"},{"x":-0.12,"y":2.14,"c":"g"},{"x":0.0,"y":2.04,"c":"g"},
{"x":-0.85,"y":1.78,"c":"g"},{"x":-0.7,"y":1.85,"c":"g"},{"x":-0.58,"y":1.76,"c":"g"},{"x":-0.45,"y":1.84,"c":"g"},{"x":-0.32,"y":1.75,"c":"g"},{"x":-0.2,"y":1.86,"c":"g"},{"x":-0.08,"y":1.77,"c":"g"},{"x":0.05,"y":1.83,"c":"g"},
{"x":-0.95,"y":1.48,"c":"g"},{"x":-0.8,"y":1.55,"c":"g"},{"x":-0.68,"y":1.46,"c":"g"},{"x":-0.55,"y":1.54,"c":"g"},{"x":-0.42,"y":1.45,"c":"g"},{"x":-0.3,"y":1.56,"c":"g"},{"x":-0.18,"y":1.47,"c":"g"},{"x":-0.05,"y":1.53,"c":"g"},{"x":0.08,"y":1.45,"c":"g"},
{"x":-1.0,"y":1.18,"c":"g"},{"x":-0.85,"y":1.25,"c":"g"},{"x":-0.72,"y":1.16,"c":"g"},{"x":-0.6,"y":1.24,"c":"g"},{"x":-0.48,"y":1.15,"c":"g"},{"x":-0.36,"y":1.26,"c":"g"},{"x":-0.24,"y":1.17,"c":"g"},{"x":-0.12,"y":1.23,"c":"g"},{"x":0.0,"y":1.15,"c":"g"},{"x":0.14,"y":1.24,"c":"g"},
{"x":-0.95,"y":0.88,"c":"g"},{"x":-0.82,"y":0.95,"c":"g"},{"x":-0.7,"y":0.86,"c":"g"},{"x":-0.58,"y":0.94,"c":"g"},{"x":-0.46,"y":0.85,"c":"g"},{"x":-0.34,"y":0.96,"c":"g"},{"x":-0.22,"y":0.87,"c":"g"},{"x":-0.1,"y":0.93,"c":"g"},{"x":0.02,"y":0.85,"c":"g"},{"x":0.15,"y":0.94,"c":"g"},{"x":0.3,"y":0.87,"c":"g"},
{"x":-0.9,"y":0.58,"c":"g"},{"x":-0.78,"y":0.65,"c":"g"},{"x":-0.66,"y":0.56,"c":"g"},{"x":-0.54,"y":0.64,"c":"g"},{"x":-0.42,"y":0.55,"c":"g"},{"x":-0.3,"y":0.66,"c":"g"},{"x":-0.18,"y":0.57,"c":"g"},{"x":-0.06,"y":0.63,"c":"g"},{"x":0.06,"y":0.55,"c":"g"},{"x":0.2,"y":0.64,"c":"g"},{"x":0.35,"y":0.57,"c":"g"},
{"x":-0.85,"y":0.28,"c":"g"},{"x":-0.72,"y":0.35,"c":"g"},{"x":-0.6,"y":0.26,"c":"g"},{"x":-0.48,"y":0.34,"c":"g"},{"x":-0.36,"y":0.25,"c":"g"},{"x":-0.24,"y":0.36,"c":"g"},{"x":-0.12,"y":0.27,"c":"g"},{"x":0.0,"y":0.33,"c":"g"},{"x":0.12,"y":0.25,"c":"g"},{"x":0.25,"y":0.34,"c":"g"},{"x":0.4,"y":0.27,"c":"g"},
{"x":-0.8,"y":-0.02,"c":"g"},{"x":-0.68,"y":0.05,"c":"g"},{"x":-0.56,"y":-0.04,"c":"g"},{"x":-0.44,"y":0.04,"c":"g"},{"x":-0.32,"y":-0.05,"c":"g"},{"x":-0.2,"y":0.06,"c":"g"},{"x":-0.08,"y":-0.03,"c":"g"},{"x":0.04,"y":0.03,"c":"g"},{"x":0.16,"y":-0.05,"c":"g"},{"x":0.3,"y":0.04,"c":"g"},{"x":0.45,"y":-0.03,"c":"g"},
{"x":-0.75,"y":-0.28,"c":"g"},{"x":-0.62,"y":-0.35,"c":"g"},{"x":-0.5,"y":-0.26,"c":"g"},{"x":-0.38,"y":-0.34,"c":"g"},{"x":-0.26,"y":-0.25,"c":"g"},{"x":-0.14,"y":-0.36,"c":"g"},{"x":-0.02,"y":-0.27,"c":"g"},{"x":0.1,"y":-0.33,"c":"g"},{"x":0.22,"y":-0.25,"c":"g"},{"x":0.36,"y":-0.34,"c":"g"},{"x":0.5,"y":-0.27,"c":"g"},
{"x":-0.72,"y":-0.58,"c":"g"},{"x":-0.6,"y":-0.65,"c":"g"},{"x":-0.48,"y":-0.56,"c":"g"},{"x":-0.36,"y":-0.64,"c":"g"},{"x":-0.24,"y":-0.55,"c":"g"},{"x":-0.12,"y":-0.66,"c":"g"},{"x":0.0,"y":-0.57,"c":"g"},{"x":0.12,"y":-0.63,"c":"g"},{"x":0.24,"y":-0.55,"c":"g"},{"x":0.38,"y":-0.64,"c":"g"},
{"x":-0.7,"y":-0.88,"c":"g"},{"x":-0.58,"y":-0.95,"c":"g"},{"x":-0.46,"y":-0.86,"c":"g"},{"x":-0.34,"y":-0.94,"c":"g"},{"x":-0.22,"y":-0.85,"c":"g"},{"x":-0.1,"y":-0.96,"c":"g"},{"x":0.02,"y":-0.87,"c":"g"},{"x":0.14,"y":-0.93,"c":"g"},{"x":0.28,"y":-0.85,"c":"g"},
{"x":-0.66,"y":-1.18,"c":"g"},{"x":-0.54,"y":-1.25,"c":"g"},{"x":-0.42,"y":-1.16,"c":"g"},{"x":-0.3,"y":-1.24,"c":"g"},{"x":-0.18,"y":-1.15,"c":"g"},{"x":-0.06,"y":-1.26,"c":"g"},{"x":0.06,"y":-1.17,"c":"g"},{"x":0.2,"y":-1.23,"c":"g"},{"x":0.35,"y":-1.15,"c":"g"},
{"x":-0.7,"y":-1.48,"c":"g"},{"x":-0.56,"y":-1.55,"c":"g"},{"x":-0.44,"y":-1.46,"c":"g"},{"x":-0.32,"y":-1.54,"c":"g"},{"x":-0.2,"y":-1.45,"c":"g"},{"x":-0.08,"y":-1.56,"c":"g"},{"x":0.05,"y":-1.47,"c":"g"},{"x":0.18,"y":-1.53,"c":"g"},
{"x":-0.6,"y":-1.78,"c":"g"},{"x":-0.46,"y":-1.85,"c":"g"},{"x":-0.34,"y":-1.76,"c":"g"},{"x":-0.22,"y":-1.84,"c":"g"},{"x":-0.1,"y":-1.75,"c":"g"},{"x":0.02,"y":-1.86,"c":"g"},{"x":0.15,"y":-1.77,"c":"g"},
{"x":-0.5,"y":-2.08,"c":"g"},{"x":-0.36,"y":-2.15,"c":"g"},{"x":-0.24,"y":-2.06,"c":"g"},{"x":-0.12,"y":-2.14,"c":"g"},{"x":0.0,"y":-2.05,"c":"g"},{"x":-0.42,"y":-2.38,"c":"g"},{"x":-0.28,"y":-2.45,"c":"g"},{"x":-0.14,"y":-2.36,"c":"g"},
{"x":-0.62,"y":1.97,"c":"g"},{"x":-0.48,"y":1.93,"c":"g"},{"x":-0.33,"y":1.97,"c":"g"},{"x":-0.18,"y":1.92,"c":"g"},{"x":-0.06,"y":1.96,"c":"g"},
{"x":-0.75,"y":1.67,"c":"g"},{"x":-0.62,"y":1.63,"c":"g"},{"x":-0.5,"y":1.67,"c":"g"},{"x":-0.38,"y":1.62,"c":"g"},{"x":-0.26,"y":1.67,"c":"g"},{"x":-0.14,"y":1.63,"c":"g"},{"x":0.0,"y":1.67,"c":"g"},{"x":0.12,"y":1.63,"c":"g"},
{"x":-0.66,"y":1.37,"c":"g"},{"x":-0.54,"y":1.33,"c":"g"},{"x":-0.42,"y":1.37,"c":"g"},{"x":-0.3,"y":1.32,"c":"g"},{"x":-0.18,"y":1.37,"c":"g"},{"x":-0.06,"y":1.33,"c":"g"},{"x":0.07,"y":1.37,"c":"g"},{"x":0.2,"y":1.33,"c":"g"},
{"x":-0.64,"y":1.07,"c":"g"},{"x":-0.52,"y":1.03,"c":"g"},{"x":-0.4,"y":1.07,"c":"g"},{"x":-0.28,"y":1.02,"c":"g"},{"x":-0.16,"y":1.07,"c":"g"},{"x":-0.04,"y":1.03,"c":"g"},{"x":0.08,"y":1.07,"c":"g"},{"x":0.22,"y":1.03,"c":"g"},
{"x":-0.72,"y":0.77,"c":"g"},{"x":-0.6,"y":0.73,"c":"g"},{"x":-0.48,"y":0.77,"c":"g"},{"x":-0.36,"y":0.72,"c":"g"},{"x":-0.24,"y":0.77,"c":"g"},{"x":-0.12,"y":0.73,"c":"g"},{"x":0.0,"y":0.77,"c":"g"},{"x":0.12,"y":0.73,"c":"g"},{"x":0.25,"y":0.77,"c":"g"},{"x":0.4,"y":0.73,"c":"g"},
{"x":-0.66,"y":0.47,"c":"g"},{"x":-0.54,"y":0.43,"c":"g"},{"x":-0.42,"y":0.47,"c":"g"},{"x":-0.3,"y":0.42,"c":"g"},{"x":-0.18,"y":0.47,"c":"g"},{"x":-0.06,"y":0.43,"c":"g"},{"x":0.06,"y":0.47,"c":"g"},{"x":0.18,"y":0.43,"c":"g"},{"x":0.32,"y":0.47,"c":"g"},
{"x":-0.74,"y":0.17,"c":"g"},{"x":-0.62,"y":0.13,"c":"g"},{"x":-0.5,"y":0.17,"c":"g"},{"x":-0.38,"y":0.12,"c":"g"},{"x":-0.26,"y":0.17,"c":"g"},{"x":-0.14,"y":0.13,"c":"g"},{"x":-0.02,"y":0.17,"c":"g"},{"x":0.1,"y":0.13,"c":"g"},{"x":0.23,"y":0.17,"c":"g"},{"x":0.37,"y":0.13,"c":"g"},
{"x":-0.68,"y":-0.13,"c":"g"},{"x":-0.56,"y":-0.17,"c":"g"},{"x":-0.44,"y":-0.13,"c":"g"},{"x":-0.32,"y":-0.18,"c":"g"},{"x":-0.2,"y":-0.13,"c":"g"},{"x":-0.08,"y":-0.17,"c":"g"},{"x":0.04,"y":-0.13,"c":"g"},{"x":0.16,"y":-0.17,"c":"g"},{"x":0.29,"y":-0.13,"c":"g"},{"x":0.43,"y":-0.17,"c":"g"},
{"x":-0.66,"y":-0.43,"c":"g"},{"x":-0.54,"y":-0.47,"c":"g"},{"x":-0.42,"y":-0.43,"c":"g"},{"x":-0.3,"y":-0.48,"c":"g"},{"x":-0.18,"y":-0.43,"c":"g"},{"x":-0.06,"y":-0.47,"c":"g"},{"x":0.06,"y":-0.43,"c":"g"},{"x":0.18,"y":-0.47,"c":"g"},{"x":0.31,"y":-0.43,"c":"g"},
{"x":-0.64,"y":-0.73,"c":"g"},{"x":-0.52,"y":-0.77,"c":"g"},{"x":-0.4,"y":-0.73,"c":"g"},{"x":-0.28,"y":-0.78,"c":"g"},{"x":-0.16,"y":-0.73,"c":"g"},{"x":-0.04,"y":-0.77,"c":"g"},{"x":0.08,"y":-0.73,"c":"g"},{"x":0.21,"y":-0.77,"c":"g"},
{"x":-0.6,"y":-1.03,"c":"g"},{"x":-0.48,"y":-1.07,"c":"g"},{"x":-0.36,"y":-1.03,"c":"g"},{"x":-0.24,"y":-1.08,"c":"g"},{"x":-0.12,"y":-1.03,"c":"g"},{"x":0.0,"y":-1.07,"c":"g"},{"x":0.13,"y":-1.03,"c":"g"},{"x":0.27,"y":-1.07,"c":"g"},
{"x":-0.62,"y":-1.33,"c":"g"},{"x":-0.5,"y":-1.37,"c":"g"},{"x":-0.38,"y":-1.33,"c":"g"},{"x":-0.26,"y":-1.38,"c":"g"},{"x":-0.14,"y":-1.33,"c":"g"},{"x":-0.02,"y":-1.37,"c":"g"},{"x":0.11,"y":-1.33,"c":"g"},
{"x":-0.53,"y":-1.63,"c":"g"},{"x":-0.4,"y":-1.67,"c":"g"},{"x":-0.28,"y":-1.63,"c":"g"},{"x":-0.16,"y":-1.68,"c":"g"},{"x":-0.04,"y":-1.63,"c":"g"},{"x":0.09,"y":-1.67,"c":"g"},
{"x":-0.97,"y":6.00,"c":"g"},{"x":-0.58,"y":5.37,"c":"g"},{"x":-0.64,"y":4.53,"c":"g"},{"x":-0.85,"y":4.44,"c":"g"},{"x":-1.07,"y":4.17,"c":"g"},{"x":-0.96,"y":4.17,"c":"g"},{"x":-1.98,"y":4.23,"c":"g"},{"x":-1.89,"y":4.01,"c":"g"},{"x":-1.71,"y":3.01,"c":"g"},{"x":-1.00,"y":3.66,"c":"g"},{"x":-0.81,"y":3.32,"c":"g"},{"x":-1.04,"y":2.89,"c":"g"},{"x":-0.92,"y":2.74,"c":"g"},{"x":-0.85,"y":2.95,"c":"g"},{"x":-0.73,"y":2.47,"c":"g"},{"x":-1.30,"y":2.86,"c":"g"},{"x":-1.29,"y":1.87,"c":"g"},{"x":-1.11,"y":2.42,"c":"g"},{"x":-1.02,"y":1.89,"c":"g"},{"x":-0.85,"y":1.89,"c":"g"},{"x":-0.77,"y":1.68,"c":"g"},{"x":-0.62,"y":1.89,"c":"g"},{"x":-1.24,"y":1.52,"c":"g"},{"x":-1.06,"y":1.32,"c":"g"},{"x":-0.92,"y":1.47,"c":"g"},{"x":-1.63,"y":1.34,"c":"g"},{"x":-1.76,"y":1.11,"c":"g"},{"x":-1.63,"y":0.66,"c":"g"},{"x":-1.27,"y":1.11,"c":"g"},{"x":-1.36,"y":0.68,"c":"g"},{"x":-1.28,"y":0.42,"c":"g"},{"x":-1.49,"y":0.16,"c":"g"},{"x":-1.42,"y":0.00,"c":"g"},{"x":-1.68,"y":-0.11,"c":"g"},{"x":-1.15,"y":0.00,"c":"g"},{"x":-0.81,"y":0.21,"c":"g"},{"x":-0.70,"y":0.00,"c":"g"},
{"x":-0.40,"y":6.53,"c":"g"},{"x":-0.57,"y":5.39,"c":"g"},{"x":0.13,"y":5.39,"c":"g"},{"x":-0.60,"y":4.55,"c":"g"},{"x":-0.56,"y":3.95,"c":"g"},{"x":-0.43,"y":3.74,"c":"g"},{"x":-0.03,"y":3.89,"c":"g"},{"x":0.06,"y":4.02,"c":"g"},{"x":0.23,"y":4.04,"c":"g"},{"x":0.54,"y":4.12,"c":"g"},{"x":1.00,"y":3.48,"c":"g"},{"x":0.68,"y":3.12,"c":"g"},{"x":1.21,"y":2.13,"c":"g"},{"x":0.71,"y":2.02,"c":"g"},{"x":-0.53,"y":3.19,"c":"g"},{"x":-0.39,"y":3.24,"c":"g"},{"x":-0.06,"y":3.19,"c":"g"},{"x":0.22,"y":2.94,"c":"g"},{"x":-0.10,"y":2.77,"c":"g"},{"x":-0.20,"y":2.68,"c":"g"},{"x":-0.03,"y":2.53,"c":"g"},{"x":-0.03,"y":2.26,"c":"g"},{"x":0.13,"y":2.13,"c":"g"},{"x":0.18,"y":2.13,"c":"g"},{"x":-0.12,"y":2.08,"c":"g"},{"x":0.05,"y":1.87,"c":"g"},{"x":0.16,"y":1.82,"c":"g"},{"x":0.16,"y":1.47,"c":"g"},{"x":0.53,"y":1.62,"c":"g"},{"x":0.67,"y":1.49,"c":"g"},{"x":0.54,"y":1.24,"c":"g"},{"x":0.63,"y":1.18,"c":"g"},{"x":0.69,"y":1.12,"c":"g"},{"x":0.49,"y":0.84,"c":"g"},{"x":0.63,"y":0.84,"c":"g"},{"x":0.72,"y":0.76,"c":"g"},{"x":0.66,"y":0.45,"c":"g"},{"x":0.27,"y":1.05,"c":"g"},{"x":0.22,"y":0.79,"c":"g"},{"x":0.29,"y":0.32,"c":"g"},{"x":-0.29,"y":2.11,"c":"g"},{"x":-0.44,"y":2.42,"c":"g"},{"x":0.16,"y":0.11,"c":"g"},{"x":0.29,"y":0.16,"c":"g"},{"x":0.75,"y":-0.05,"c":"g"},
{"x":-1.49,"y":-1.79,"c":"g"},{"x":-1.27,"y":-1.47,"c":"g"},{"x":-1.11,"y":-2.98,"c":"g"},{"x":-1.05,"y":-3.45,"c":"g"},{"x":-0.95,"y":-5.24,"c":"g"},{"x":-0.73,"y":-4.77,"c":"g"},{"x":-0.60,"y":-3.53,"c":"g"},{"x":-0.62,"y":-3.93,"c":"g"},{"x":-1.19,"y":-1.79,"c":"g"},{"x":-1.11,"y":-2.26,"c":"g"},{"x":-1.17,"y":-2.47,"c":"g"},{"x":-1.46,"y":-1.21,"c":"g"},{"x":-1.04,"y":-2.16,"c":"g"},{"x":-0.81,"y":-2.26,"c":"g"},{"x":-0.70,"y":-2.58,"c":"g"},{"x":-0.77,"y":-2.79,"c":"g"},{"x":-0.66,"y":-1.95,"c":"g"},{"x":-0.62,"y":-1.52,"c":"g"},{"x":-0.81,"y":-1.31,"c":"g"},
{"x":1.93,"y":-2.02,"c":"g"},{"x":0.91,"y":-3.49,"c":"g"},{"x":0.89,"y":-1.94,"c":"g"},{"x":0.87,"y":-1.07,"c":"g"},{"x":0.72,"y":-0.49,"c":"g"},{"x":0.75,"y":-0.18,"c":"g"},{"x":0.59,"y":-0.65,"c":"g"},{"x":0.69,"y":-1.03,"c":"g"},{"x":0.75,"y":-1.26,"c":"g"},{"x":0.51,"y":-1.10,"c":"g"},{"x":0.36,"y":-0.63,"c":"g"},{"x":0.43,"y":-1.47,"c":"g"},{"x":0.37,"y":-1.63,"c":"g"},{"x":0.29,"y":-1.18,"c":"g"},{"x":0.18,"y":-1.07,"c":"g"},{"x":0.07,"y":-1.76,"c":"g"},{"x":0.19,"y":-1.97,"c":"g"},{"x":0.09,"y":-2.14,"c":"g"},{"x":0.40,"y":-2.14,"c":"g"},{"x":0.32,"y":-2.40,"c":"g"},{"x":0.26,"y":-2.63,"c":"g"},{"x":0.56,"y":-2.81,"c":"g"},{"x":0.31,"y":-3.36,"c":"g"},{"x":0.16,"y":-3.23,"c":"g"},{"x":0.29,"y":-4.07,"c":"g"},{"x":0.69,"y":-4.87,"c":"g"},{"x":0.04,"y":-4.42,"c":"g"},{"x":-0.11,"y":-3.82,"c":"g"},{"x":-0.20,"y":-3.21,"c":"g"},{"x":-0.35,"y":-3.28,"c":"g"},{"x":-0.41,"y":-3.03,"c":"g"},{"x":-0.26,"y":-2.77,"c":"g"},{"x":0.05,"y":-2.58,"c":"g"},{"x":-0.05,"y":-2.31,"c":"g"},{"x":0.23,"y":-1.73,"c":"g"},{"x":-0.14,"y":-2.00,"c":"g"},{"x":-0.44,"y":-2.16,"c":"g"},{"x":-0.56,"y":-2.42,"c":"g"},{"x":-0.60,"y":-3.21,"c":"g"},{"x":-0.60,"y":-3.95,"c":"g"},{"x":-0.52,"y":-1.31,"c":"g"},{"x":-0.48,"y":-1.73,"c":"g"},{"x":-0.56,"y":-2.79,"c":"g"},
{"x":-2.59,"y":6.42,"c":"o"},{"x":-1.59,"y":5.32,"c":"o"},{"x":-2.98,"y":4.25,"c":"o"},{"x":-2.30,"y":4.24,"c":"o"},{"x":-2.00,"y":4.20,"c":"o"},{"x":-1.60,"y":4.15,"c":"o"},{"x":-2.17,"y":3.42,"c":"o"},{"x":-1.19,"y":3.81,"c":"o"},{"x":-1.23,"y":3.63,"c":"o"},{"x":-1.27,"y":3.45,"c":"o"},{"x":-1.46,"y":3.28,"c":"o"},{"x":-1.48,"y":3.02,"c":"o"},{"x":-1.32,"y":3.18,"c":"o"},{"x":-1.44,"y":2.81,"c":"o"},{"x":-1.38,"y":2.74,"c":"o"},{"x":-1.72,"y":2.60,"c":"o"},{"x":-1.43,"y":2.53,"c":"o"},{"x":-1.22,"y":2.46,"c":"o"},{"x":-1.15,"y":3.05,"c":"o"},{"x":-1.13,"y":2.05,"c":"o"},{"x":-1.39,"y":2.32,"c":"o"},{"x":-1.30,"y":1.98,"c":"o"},{"x":-1.40,"y":1.95,"c":"o"},{"x":-0.96,"y":3.63,"c":"o"},{"x":-0.98,"y":3.05,"c":"o"},{"x":-1.04,"y":2.47,"c":"o"},{"x":-0.97,"y":2.14,"c":"o"},{"x":-1.30,"y":1.44,"c":"o"},{"x":-1.13,"y":1.56,"c":"o"},{"x":-1.48,"y":1.71,"c":"o"},{"x":-1.49,"y":1.32,"c":"o"},{"x":-1.52,"y":1.16,"c":"o"},{"x":-1.38,"y":0.89,"c":"o"},{"x":-1.85,"y":0.79,"c":"o"},{"x":-1.74,"y":0.76,"c":"o"},{"x":-1.72,"y":0.58,"c":"o"},{"x":-1.61,"y":0.27,"c":"o"},{"x":-1.75,"y":0.16,"c":"o"},{"x":-1.93,"y":0.16,"c":"o"},{"x":-2.02,"y":0.09,"c":"o"},{"x":-2.25,"y":0.44,"c":"o"},{"x":-2.24,"y":0.25,"c":"o"},{"x":-2.57,"y":0.08,"c":"o"},{"x":-2.12,"y":-0.21,"c":"o"},{"x":-1.17,"y":1.16,"c":"o"},{"x":-1.23,"y":0.79,"c":"o"},{"x":-1.15,"y":0.42,"c":"o"},{"x":-1.30,"y":0.11,"c":"o"},{"x":-1.00,"y":0.84,"c":"o"},{"x":-0.85,"y":0.63,"c":"o"},{"x":-0.66,"y":4.11,"c":"o"},{"x":-0.68,"y":3.11,"c":"o"},{"x":-0.77,"y":2.42,"c":"o"},{"x":-0.85,"y":1.79,"c":"o"},{"x":-0.70,"y":0.84,"c":"o"},{"x":-0.62,"y":0.53,"c":"o"},{"x":-1.76,"y":-0.16,"c":"o"},{"x":-1.61,"y":-0.11,"c":"o"},
{"x":-0.33,"y":5.17,"c":"o"},{"x":-0.37,"y":3.53,"c":"o"},{"x":-0.43,"y":2.55,"c":"o"},{"x":-0.49,"y":1.68,"c":"o"},{"x":-0.58,"y":1.47,"c":"o"},{"x":-0.29,"y":1.53,"c":"o"},{"x":0.00,"y":0.74,"c":"o"},{"x":0.52,"y":0.67,"c":"o"},{"x":-0.29,"y":0.29,"c":"o"},{"x":0.04,"y":0.16,"c":"o"},
{"x":-2.19,"y":-0.71,"c":"o"},{"x":-2.10,"y":-1.31,"c":"o"},{"x":-1.95,"y":-1.36,"c":"o"},{"x":-1.90,"y":-1.73,"c":"o"},{"x":-1.74,"y":-1.54,"c":"o"},{"x":-1.63,"y":-1.50,"c":"o"},{"x":-1.53,"y":-1.71,"c":"o"},{"x":-1.76,"y":-2.16,"c":"o"},{"x":-1.80,"y":-2.31,"c":"o"},{"x":-2.71,"y":-2.10,"c":"o"},{"x":-2.32,"y":-2.66,"c":"o"},{"x":-2.20,"y":-2.79,"c":"o"},{"x":-2.54,"y":-3.30,"c":"o"},{"x":-2.61,"y":-3.58,"c":"o"},{"x":-2.06,"y":-3.42,"c":"o"},{"x":-1.76,"y":-0.94,"c":"o"},{"x":-1.63,"y":-0.84,"c":"o"},{"x":-1.59,"y":-1.21,"c":"o"},{"x":-1.47,"y":-0.57,"c":"o"},{"x":-1.38,"y":-0.36,"c":"o"},{"x":-1.42,"y":-0.79,"c":"o"},{"x":-1.34,"y":-1.05,"c":"o"},{"x":-1.45,"y":-2.10,"c":"o"},{"x":-1.38,"y":-2.63,"c":"o"},{"x":-1.36,"y":-2.90,"c":"o"},{"x":-1.32,"y":-2.87,"c":"o"},{"x":-1.47,"y":-2.79,"c":"o"},{"x":-1.24,"y":-3.45,"c":"o"},{"x":-1.15,"y":-3.45,"c":"o"},{"x":-1.09,"y":-3.76,"c":"o"},{"x":-1.50,"y":-4.30,"c":"o"},{"x":-1.19,"y":-4.53,"c":"o"},{"x":-1.04,"y":-2.56,"c":"o"},{"x":-1.27,"y":-2.10,"c":"o"},{"x":-1.02,"y":-1.73,"c":"o"},{"x":-0.92,"y":-1.10,"c":"o"},{"x":-0.77,"y":-1.73,"c":"o"},{"x":-0.70,"y":-1.21,"c":"o"},{"x":-0.66,"y":-2.16,"c":"o"},{"x":-0.62,"y":-2.79,"c":"o"},{"x":-0.94,"y":-3.14,"c":"o"},{"x":-0.77,"y":-4.37,"c":"o"},{"x":-0.82,"y":-5.30,"c":"o"},{"x":-1.27,"y":-0.57,"c":"o"},{"x":-0.81,"y":-0.57,"c":"o"},
{"x":-0.03,"y":-2.07,"c":"o"},{"x":0.12,"y":-2.37,"c":"o"},{"x":0.16,"y":-2.98,"c":"o"},{"x":0.52,"y":-3.30,"c":"o"},{"x":0.70,"y":-2.52,"c":"o"},{"x":0.85,"y":-2.76,"c":"o"},{"x":-0.32,"y":-4.03,"c":"o"},{"x":-0.10,"y":-4.24,"c":"o"},{"x":-0.03,"y":-4.19,"c":"o"},{"x":0.19,"y":-4.39,"c":"o"},{"x":0.04,"y":-6.33,"c":"o"},{"x":0.31,"y":-6.26,"c":"o"},{"x":-0.35,"y":-7.09,"c":"o"},{"x":-0.41,"y":-3.55,"c":"o"},{"x":-0.45,"y":-2.68,"c":"o"},{"x":-0.52,"y":-3.21,"c":"o"},
{"x":-2.20,"y":4.74,"c":"p"},{"x":-0.92,"y":3.14,"c":"p"},{"x":-0.79,"y":2.89,"c":"p"},{"x":-0.89,"y":2.49,"c":"p"},{"x":-1.88,"y":2.07,"c":"p"},{"x":-1.63,"y":2.00,"c":"p"},{"x":-0.97,"y":1.45,"c":"p"},{"x":-1.47,"y":1.39,"c":"p"},{"x":-1.28,"y":0.65,"c":"p"},{"x":-1.10,"y":0.63,"c":"p"},{"x":-0.54,"y":3.89,"c":"p"},{"x":-0.46,"y":2.42,"c":"p"},{"x":-0.32,"y":2.31,"c":"p"},{"x":0.28,"y":0.74,"c":"p"},{"x":-2.80,"y":-2.34,"c":"p"},{"x":-1.97,"y":-1.52,"c":"p"},{"x":-1.82,"y":-1.77,"c":"p"},{"x":-1.84,"y":-0.66,"c":"p"},{"x":-1.87,"y":-1.15,"c":"p"},{"x":-1.69,"y":-0.99,"c":"p"},{"x":-1.15,"y":-2.16,"c":"p"},{"x":-1.08,"y":-1.58,"c":"p"},{"x":-0.91,"y":-2.24,"c":"p"},{"x":-0.83,"y":-3.32,"c":"p"},{"x":-0.91,"y":-3.51,"c":"p"},{"x":-0.60,"y":-3.21,"c":"p"},{"x":-0.19,"y":-1.81,"c":"p"},
{"x":-0.74,"y":4.32,"c":"m"},{"x":-2.18,"y":3.81,"c":"m"},{"x":-1.21,"y":2.95,"c":"m"},{"x":-1.53,"y":2.23,"c":"m"},{"x":-1.38,"y":2.02,"c":"m"},{"x":-0.83,"y":1.68,"c":"m"},{"x":-0.66,"y":1.68,"c":"m"},{"x":-1.08,"y":1.03,"c":"m"},{"x":-0.97,"y":0.66,"c":"m"},{"x":-0.81,"y":0.79,"c":"m"},{"x":-1.47,"y":0.40,"c":"m"},{"x":-0.56,"y":0.63,"c":"m"},
{"x":-0.29,"y":4.32,"c":"m"},{"x":-0.32,"y":4.02,"c":"m"},{"x":-0.20,"y":3.05,"c":"m"},{"x":0.41,"y":2.61,"c":"m"},{"x":0.34,"y":2.36,"c":"m"},{"x":-0.40,"y":1.12,"c":"m"},{"x":-0.23,"y":1.24,"c":"m"},{"x":0.37,"y":-0.19,"c":"m"},
{"x":-1.87,"y":-1.89,"c":"m"},{"x":-1.60,"y":-3.05,"c":"m"},{"x":-1.61,"y":-3.39,"c":"m"},{"x":-2.06,"y":-3.77,"c":"m"},{"x":-1.83,"y":-4.77,"c":"m"},{"x":-1.33,"y":-3.45,"c":"m"},{"x":-1.15,"y":-3.84,"c":"m"},{"x":-1.51,"y":-2.70,"c":"m"},{"x":-1.14,"y":-2.71,"c":"m"},{"x":-1.15,"y":-6.22,"c":"m"},{"x":-0.73,"y":-5.64,"c":"m"},{"x":-0.75,"y":-4.00,"c":"m"},{"x":-0.75,"y":-4.21,"c":"m"},{"x":-0.58,"y":-4.35,"c":"m"},{"x":-0.78,"y":-3.02,"c":"m"},{"x":-0.86,"y":-2.61,"c":"m"},{"x":-0.90,"y":-2.08,"c":"m"},{"x":-1.17,"y":-0.89,"c":"m"},{"x":-1.23,"y":-1.63,"c":"m"},{"x":-0.92,"y":-0.87,"c":"m"},{"x":-0.67,"y":-1.10,"c":"m"},{"x":-1.70,"y":-0.89,"c":"m"},
{"x":0.72,"y":-1.47,"c":"m"},{"x":-0.10,"y":-1.10,"c":"m"},{"x":0.23,"y":-1.50,"c":"m"},{"x":-0.02,"y":-2.44,"c":"m"},{"x":-0.15,"y":-2.63,"c":"m"},{"x":-0.10,"y":-3.02,"c":"m"},{"x":-0.05,"y":-3.19,"c":"m"},{"x":0.35,"y":-2.89,"c":"m"},{"x":-0.29,"y":-4.00,"c":"m"},{"x":-0.57,"y":-4.34,"c":"m"},{"x":-0.54,"y":-4.83,"c":"m"},{"x":-0.53,"y":-4.97,"c":"m"},{"x":-0.15,"y":-5.75,"c":"m"},{"x":-0.15,"y":-6.85,"c":"m"},{"x":-0.17,"y":-7.00,"c":"m"},{"x":-0.33,"y":-0.89,"c":"m"},{"x":-0.41,"y":-2.66,"c":"m"},
{"x":-1.07,"y":1.05,"c":"m"},{"x":-0.68,"y":0.63,"c":"m"},{"x":-0.34,"y":-0.85,"c":"m"},{"x":-0.68,"y":-1.11,"c":"m"},{"x":-1.17,"y":-0.85,"c":"m"},{"x":-1.47,"y":0.36,"c":"m"},{"x":-0.85,"y":-2.59,"c":"m"},{"x":-0.14,"y":-2.64,"c":"m"},{"x":-1.32,"y":-3.43,"c":"m"},{"x":-1.57,"y":-3.06,"c":"m"},{"x":0.34,"y":-0.25,"c":"m"},{"x":-0.40,"y":1.09,"c":"m"}
]
},
"hconcat":[
{"title":"Cluster assignment in linked space","width":473,"height":473,
 "layer":[
 {"data":{"name":"left"},"mark":{"type":"circle","size":80,"opacity":1},
  "encoding":{
   "x":{"field":"x","type":"quantitative","title":"X1","scale":{"domain":[-3.23,2.18],"nice":false,"zero":false},
        "axis":{"values":[-3,-2.5,-2,-1.5,-1,-0.5,0,0.5,1,1.5,2],"labelExpr":"datum.value % 1 == 0 ? datum.label : ''","gridWidth":{"condition":{"test":"datum.value % 1 != 0","value":1},"value":2},"tickOpacity":{"condition":{"test":"datum.value % 1 != 0","value":0},"value":1}}},
   "y":{"field":"y","type":"quantitative","title":"X3","scale":{"domain":[-8.5,8.5],"nice":false,"zero":false},
        "axis":{"values":[-7.5,-5,-2.5,0,2.5,5,7.5],"labelExpr":"datum.value % 5 == 0 ? datum.label : ''","gridWidth":{"condition":{"test":"datum.value % 5 != 0","value":1},"value":2},"tickOpacity":{"condition":{"test":"datum.value % 5 != 0","value":0},"value":1}}},
   "color":{"field":"c","type":"nominal","scale":{"domain":["g","o","p","m"],"range":["#1B9E77","#D95F02","#7570B3","#E7298A"]},"legend":null}
  }},
 {"data":{"name":"centers"},"transform":[{"filter":"datum.s === 'circle'"}],"mark":{"type":"point","shape":"circle","size":180,"filled":false,"stroke":"black","strokeWidth":1.3,"opacity":1},
  "encoding":{"x":{"field":"x","type":"quantitative","title":"X1"},"y":{"field":"y3","type":"quantitative","title":"X3"}}},
 {"data":{"name":"centers"},"transform":[{"filter":"datum.s === 'diamond'"}],"mark":{"type":"point","shape":"diamond","size":306,"filled":false,"stroke":"black","strokeWidth":1.3,"opacity":1},
  "encoding":{"x":{"field":"x","type":"quantitative","title":"X1"},"y":{"field":"y3","type":"quantitative","title":"X3"}}}
 ]},
{"title":"Cluster assignment in linked space","width":467,"height":473,
 "layer":[
 {"data":{"name":"right"},"mark":{"type":"circle","size":80,"opacity":1},
  "encoding":{
   "x":{"field":"x","type":"quantitative","title":"X1","scale":{"domain":[-3.228,2.088],"nice":false,"zero":false},
        "axis":{"values":[-3,-2.5,-2,-1.5,-1,-0.5,0,0.5,1,1.5,2],"labelExpr":"datum.value % 1 == 0 ? datum.label : ''","gridWidth":{"condition":{"test":"datum.value % 1 != 0","value":1},"value":2},"tickOpacity":{"condition":{"test":"datum.value % 1 != 0","value":0},"value":1}}},
   "y":{"field":"y","type":"quantitative","title":"X6","scale":{"domain":[-7.76,7.18],"nice":false,"zero":false},
        "axis":{"values":[-6,-4,-2,0,2,4,6],"labelExpr":"datum.value % 4 == 0 ? datum.label : ''","gridWidth":{"condition":{"test":"datum.value % 4 != 0","value":1},"value":2},"tickOpacity":{"condition":{"test":"datum.value % 4 != 0","value":0},"value":1}}},
   "color":{"field":"c","type":"nominal","scale":{"domain":["g","o","p","m"],"range":["#1B9E77","#D95F02","#7570B3","#E7298A"]},"legend":null}
  }},
 {"data":{"name":"centers"},"transform":[{"filter":"datum.s === 'circle'"}],"mark":{"type":"point","shape":"circle","size":180,"filled":false,"stroke":"black","strokeWidth":1.3,"opacity":1},
  "encoding":{"x":{"field":"x","type":"quantitative","title":"X1"},"y":{"field":"y6","type":"quantitative","title":"X6"}}},
 {"data":{"name":"centers"},"transform":[{"filter":"datum.s === 'diamond'"}],"mark":{"type":"point","shape":"diamond","size":306,"filled":false,"stroke":"black","strokeWidth":1.3,"opacity":1},
  "encoding":{"x":{"field":"x","type":"quantitative","title":"X1"},"y":{"field":"y6","type":"quantitative","title":"X6"}}}
 ]}
]
}
